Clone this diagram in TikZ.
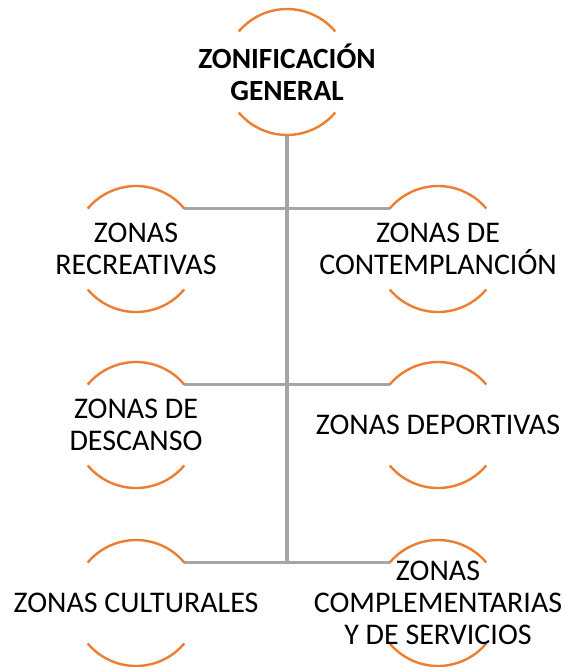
\documentclass[tikz,border=0pt]{standalone}
\usepackage{fontspec}
\setmainfont{Carlito}
\usepackage{xcolor}
\definecolor{zorange}{RGB}{237,125,49}
\definecolor{zgray}{RGB}{165,165,165}
\usetikzlibrary{positioning,calc}
\tikzset{
  zring/.style={circle, minimum size=94.5pt, inner sep=0pt, outer sep=0pt},
  zarc/.style={draw=zorange, line width=1.8pt},
  zconn/.style={draw=zgray, line width=2.5pt},
  zlabel/.style={font=\fontsize{22.5}{24}\selectfont, align=center, inner sep=0pt},
}

\begin{document}
\begin{tikzpicture}[x=0.75pt, y=0.75pt]
\useasboundingbox (0,0) rectangle (563,-667);

% --- Rings ---
\node[zring] (top) at (287,-72) {};
\node[zring] (rec) at (136,-249) {};
\node[zring] (con) at (438,-249) {};
\node[zring] (des) at (136,-425) {};
\node[zring] (dep) at (438,-425) {};
\node[zring] (cul) at (136,-603) {};
\node[zring] (com) at (438,-603) {};

% --- Connectors ---
\draw[zconn] (top.south) -- (cul.40 -| top.south);
\foreach \n in {rec,des,cul}
  \draw[zconn] (\n.40) -- (\n.40 -| top.south);
\foreach \n in {con,dep,com}
  \draw[zconn] (\n.140) -- (\n.140 -| top.south);

% --- Arcs ---
\foreach \n in {top,rec,con,des,dep,cul,com} {
  \draw[zarc] (\n.40) arc[start angle=40, end angle=140, radius=47.25pt];
  \draw[zarc] (\n.220) arc[start angle=220, end angle=320, radius=47.25pt];
}

% --- Labels ---
\node[zlabel, font=\fontsize{22}{24}\selectfont\bfseries] (topT) at (top) {ZONIFICACIÓN\\GENERAL};
\node[zlabel] (recT) at (rec) {ZONAS\\RECREATIVAS};
\node[zlabel] (conT) at (con) {ZONAS DE\\CONTEMPLANCIÓN};
\node[zlabel] (desT) at (des) {ZONAS DE\\DESCANSO};
\node[zlabel] (depT) at (dep) {ZONAS DEPORTIVAS};
\node[zlabel] (culT) at (cul) {ZONAS CULTURALES};
\node[zlabel] (comT) at (com) {ZONAS\\COMPLEMENTARIAS\\Y DE SERVICIOS};

\end{tikzpicture}
\end{document}
